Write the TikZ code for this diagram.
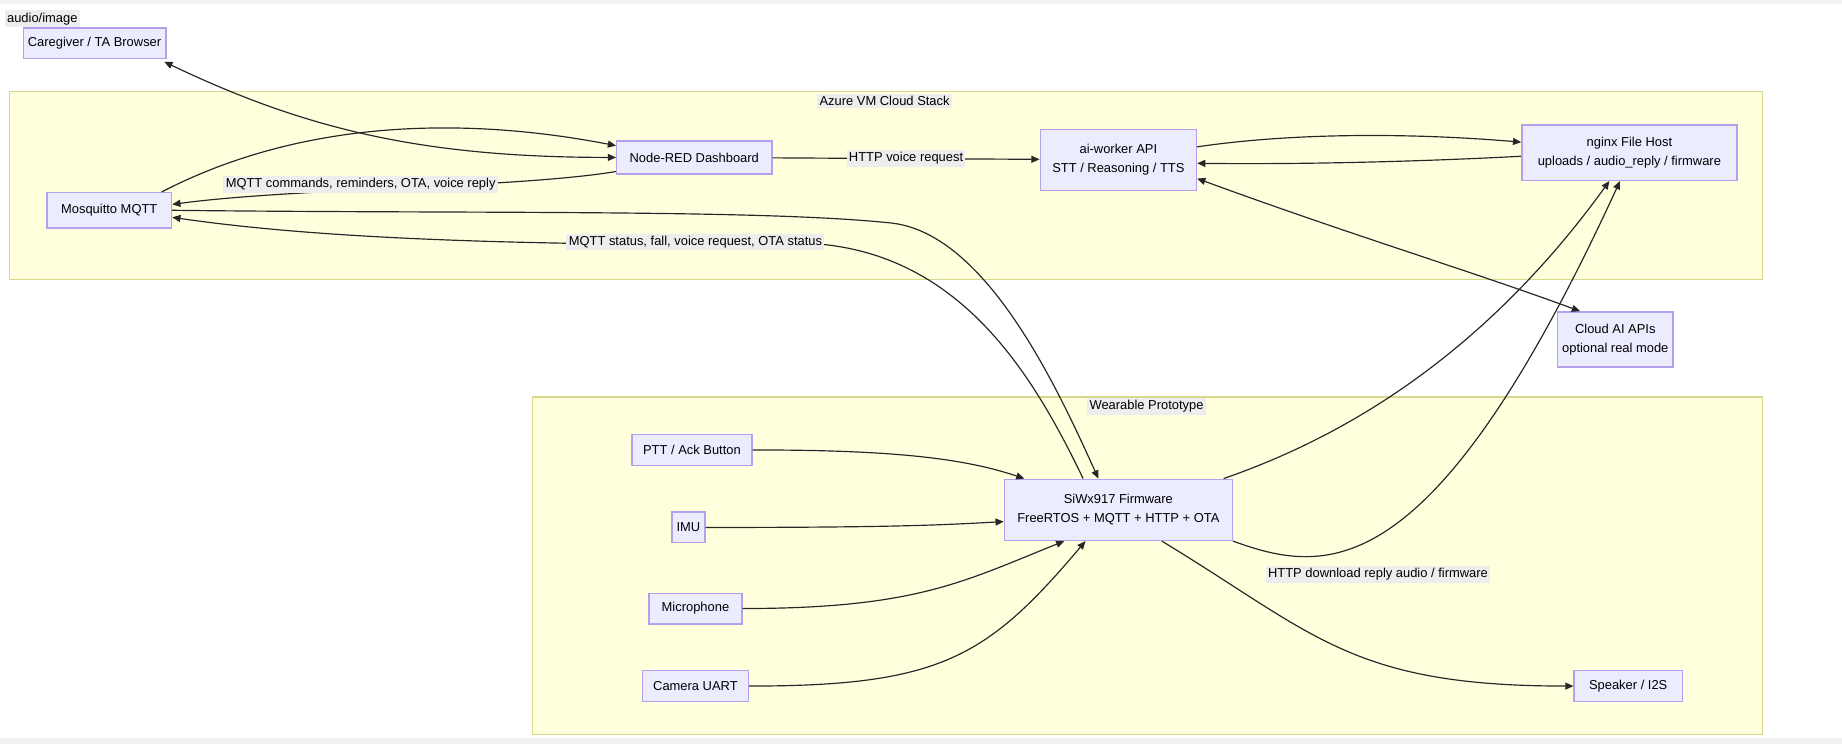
\documentclass[tikz,border=0pt]{standalone}
\usepackage{fontspec}
\setmainfont{Liberation Sans}
\usetikzlibrary{arrows.meta}
\definecolor{nfill}{HTML}{ECECFF}
\definecolor{ndraw}{HTML}{B4A0EC}
\definecolor{cfill}{HTML}{FFFFDE}
\definecolor{cdraw}{HTML}{D8D88C}
\definecolor{lbg}{HTML}{EDEDF0}
\begin{document}
\begin{tikzpicture}[x=1pt,y=-1pt,
  nd/.style={draw=ndraw,fill=nfill,line width=1.2pt,minimum height=26pt,inner sep=4pt,font=\fontsize{11}{16}\selectfont,align=center},
  cl/.style={draw=cdraw,fill=cfill,line width=1pt},
  lb/.style={fill=lbg,inner sep=2pt,font=\fontsize{11}{13}\selectfont},
  ed/.style={line width=1pt,draw=black!85,-{Triangle[length=7pt,width=6pt]}},
  bd/.style={line width=1pt,draw=black!85,{Triangle[length=7pt,width=6pt]}-{Triangle[length=7pt,width=6pt]}}]
\useasboundingbox[fill=white] (0,0) rectangle (1568,633);
\fill[black!5] (0,0) rectangle (1568,3);
\fill[black!5] (0,628) rectangle (1568,633);
\draw[cl] (8,78) rectangle (1500,238);
\draw[cl] (453,338) rectangle (1500,625);
\node[lb] (azl) at (753,86) {Azure VM Cloud Stack};
\node[lb] (wpl) at (976,346) {Wearable Prototype};
\node[lb] (aud) at (36,16) {audio/image};
\node[nd,minimum width=109pt] (cg) at (80.5,37) {Caregiver / TA Browser};
\node[nd,minimum width=132pt,minimum height=28pt] (nr) at (591,134) {Node-RED Dashboard};
\node[nd,minimum width=106pt,minimum height=30pt] (mq) at (93,179) {Mosquitto MQTT};
\node[nd,minimum width=133pt,minimum height=52pt] (ai) at (952,136) {ai-worker API\\STT / Reasoning / TTS};
\node[nd,minimum width=183pt,minimum height=47pt] (ng) at (1387,130) {nginx File Host\\uploads / audio\_reply / firmware};
\node[nd,minimum width=85pt,minimum height=47pt] (ca) at (1375,289) {Cloud AI APIs\\optional real mode};
\node[nd,minimum width=102pt] (ptt) at (589,383) {PTT / Ack Button};
\node[nd,minimum width=24pt] (imu) at (586,449) {IMU};
\node[nd,minimum width=79pt] (mic) at (592,518) {Microphone};
\node[nd,minimum width=90pt] (cam) at (592,584) {Camera UART};
\node[nd,minimum width=194pt,minimum height=52pt] (sw) at (952,434) {SiWx917 Firmware\\FreeRTOS + MQTT + HTTP + OTA};
\node[nd,minimum width=92pt] (sp) at (1386,584) {Speaker / I2S};
\coordinate (x1) at (1019,152);
% edges
\draw[bd] ([shift={(-2,2)}]cg.south east) .. controls (260,110) and (360,134) .. (nr.west);
\draw[ed] ([xshift=-9pt]mq.north east) .. controls (260,100) and (400,100) .. ([yshift=10pt]nr.west);
\draw[ed] ([yshift=-12pt]nr.west) .. controls (440,160) and (250,160) .. ([yshift=5pt]mq.east);
\node[lb] (l1) at (307,157) {MQTT commands, reminders, OTA, voice reply};
\draw[ed] (mq.east) .. controls (400,182) and (650,178) .. (760,190) .. controls (840,200) and (900,330) .. ([xshift=-17pt]sw.north);
\draw[ed] ([xshift=-30pt]sw.north) .. controls (880,320) and (820,220) .. (700,208) .. controls (400,210) and (250,200) .. ([yshift=-6pt]mq.east);
\node[lb] (l2) at (592,206) {MQTT status, fall, voice request, OTA status};
\draw[ed] (nr) -- node[lb]{HTTP voice request} (ai);
\draw[ed] ([yshift=11pt]ai.east) .. controls (1100,113) and (1200,113) .. ([yshift=9pt]ng.west);
\draw[ed] ([yshift=-3pt]ng.west) .. controls (1200,138) and (1100,140) .. ([yshift=-3pt]ai.east);
\draw[bd] (ai.east |- x1) .. controls (1150,200) and (1250,230) .. ([xshift=-30pt]ca.north);
\draw[ed] ([xshift=-8pt]sw.north east) .. controls (1120,380) and (1250,320) .. ([xshift=-17pt]ng.south);
\draw[ed] (sw.south east) .. controls (1130,490) and (1220,500) .. ([xshift=-8pt]ng.south);
\node[lb] (l3) at (1173,489) {HTTP download reply audio / firmware};
\draw[ed] ([xshift=37pt]sw.south) .. controls (1120,540) and (1150,584) .. (sp.west);
\draw[ed] (ptt.east) .. controls (760,383) and (820,390) .. ([xshift=-80pt]sw.north);
\draw[ed] (imu.east) .. controls (760,449) and (800,447) .. ([yshift=-10pt]sw.west);
\draw[ed] (mic.east) .. controls (780,518) and (820,495) .. ([xshift=-46pt]sw.south);
\draw[ed] (cam.east) .. controls (800,584) and (840,560) .. ([xshift=-28pt]sw.south);
\end{tikzpicture}
\end{document}
